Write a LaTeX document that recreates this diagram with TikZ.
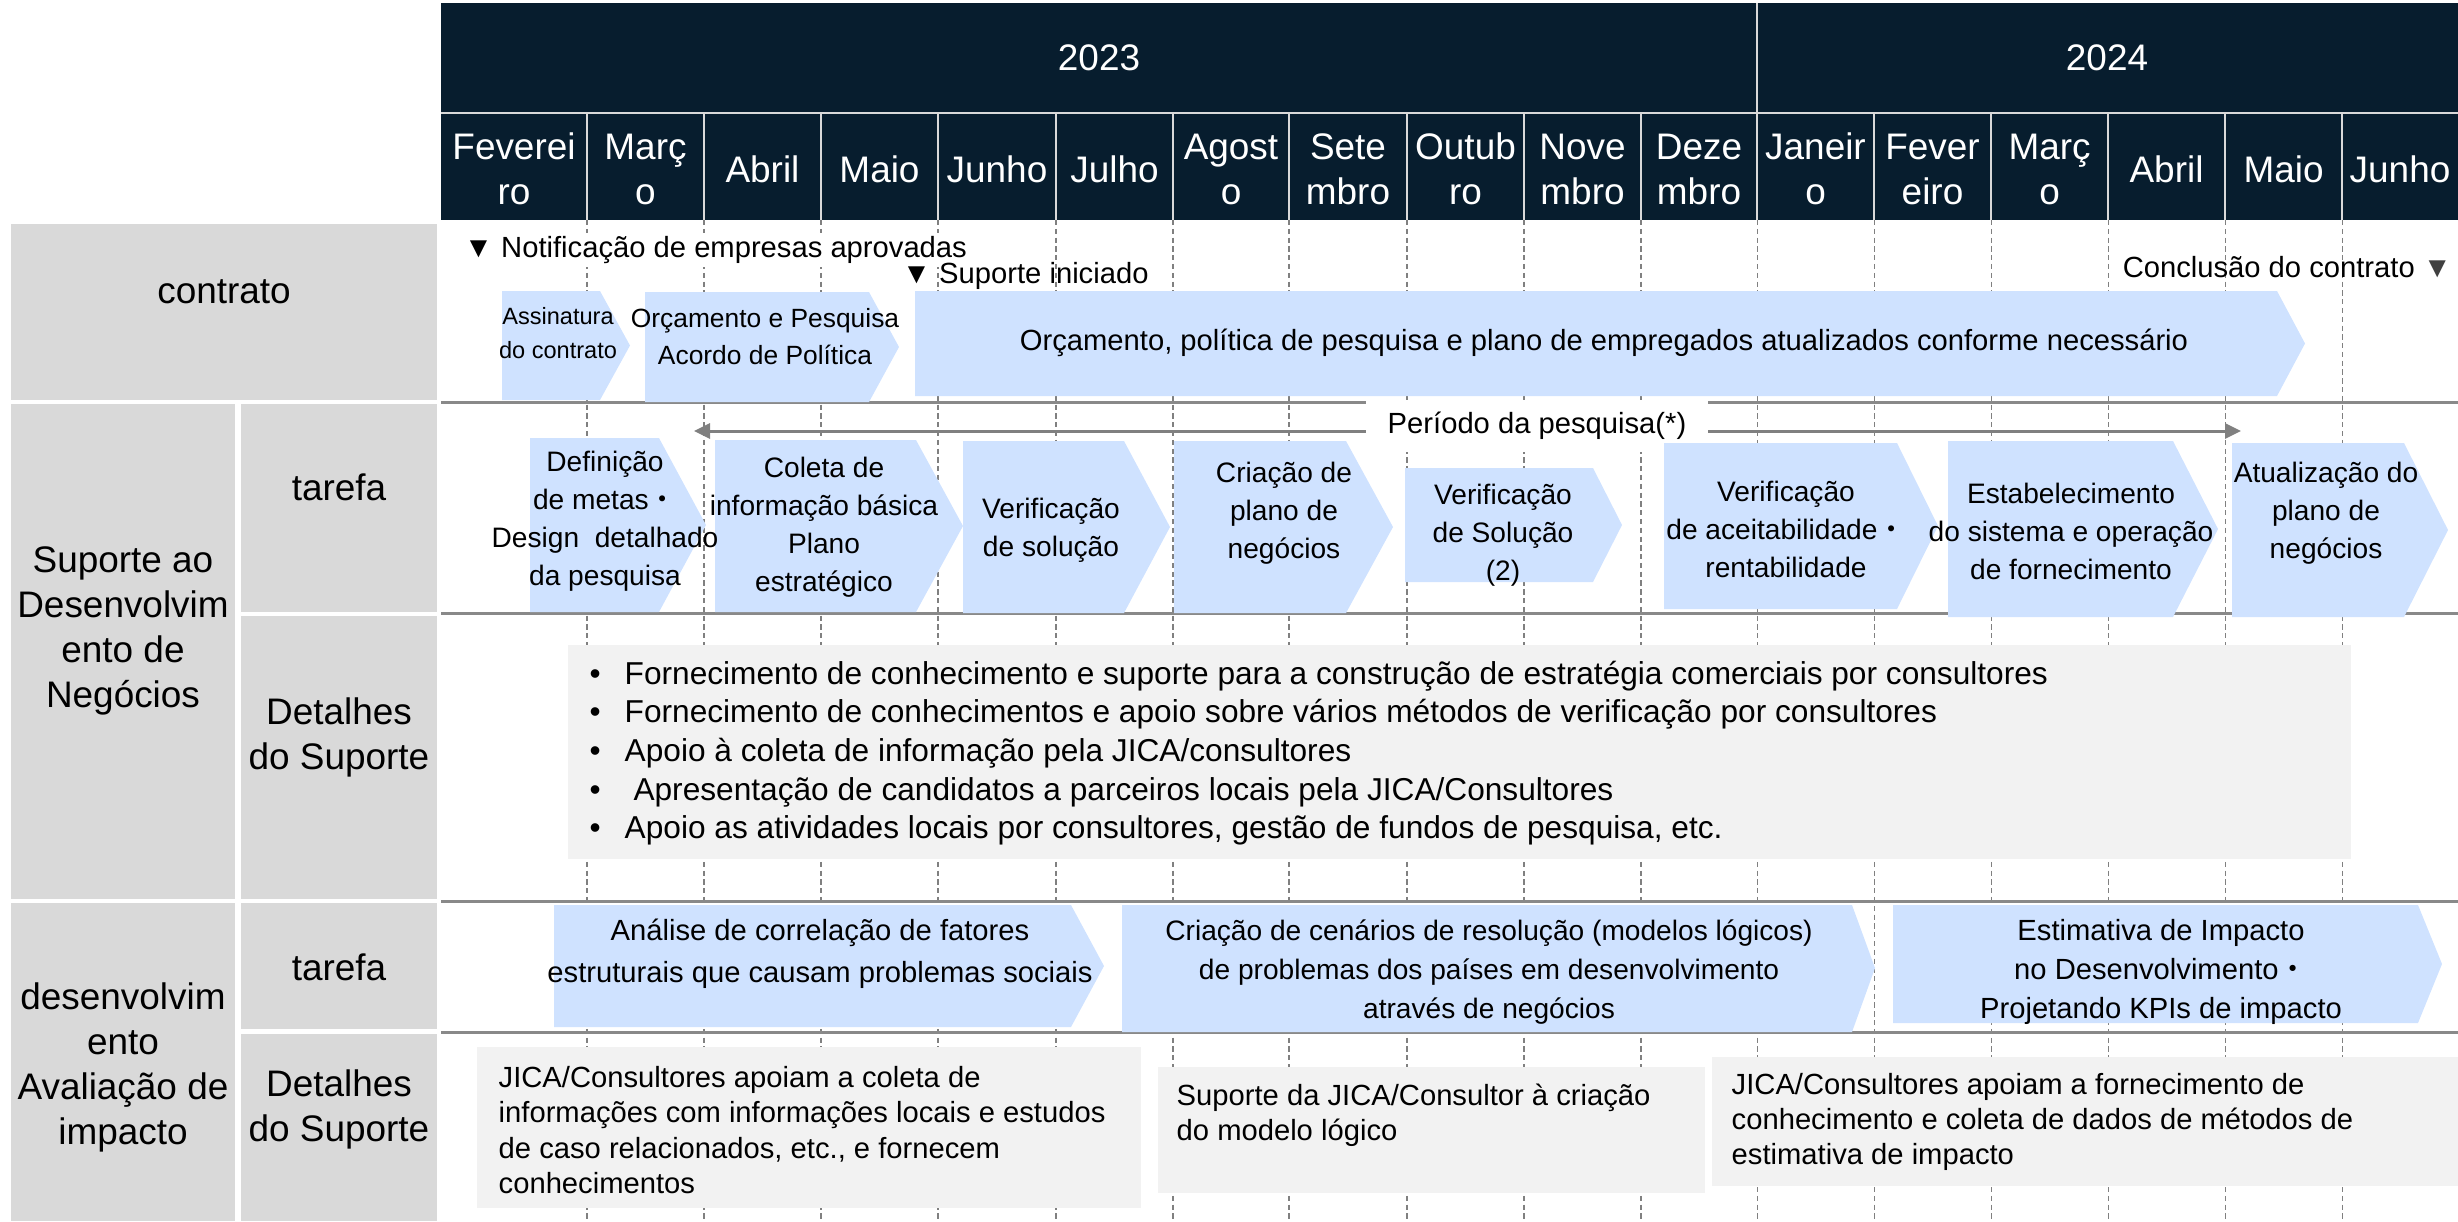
\documentclass[tikz,border=0pt]{standalone}
\usepackage{fontspec}
\setmainfont{Liberation Sans}
\newfontfamily\cjkfont{Noto Sans CJK JP}
\usetikzlibrary{arrows.meta}
\definecolor{navy}{RGB}{7,29,46}
\definecolor{chevblue}{RGB}{207,226,255}
\definecolor{lblgray}{RGB}{217,217,217}
\definecolor{boxgray}{RGB}{242,242,242}
\definecolor{sepgray}{RGB}{137,137,137}
\definecolor{dashgray}{RGB}{128,128,128}
\definecolor{markgray}{RGB}{64,64,64}
\newcommand{\jdot}{{\cjkfont ・}}
\newcommand{\blt}{\makebox[0.35cm][l]{•}}

\begin{document}
\begin{tikzpicture}[x=0.01cm,y=-0.01cm,
  hdr/.style={text=white,align=center,font=\fontsize{10.5}{12.8}\selectfont},
  lbl/.style={align=center,font=\fontsize{10.5}{12.8}\selectfont},
  chev/.style={fill=chevblue},
  chevtxt/.style={align=center,font=\fontsize{8}{10.8}\selectfont},
  note/.style={font=\fontsize{8.3}{10}\selectfont,inner sep=1pt},
  detail/.style={align=left,anchor=west,inner sep=0pt,font=\fontsize{8.3}{10}\selectfont},
  grid/.style={dashgray,line width=0.3pt,dash pattern=on 1.5pt off 1pt},
  sep/.style={sepgray,line width=0.85pt},
  cell/.style={lblgray,line width=0.6pt}]
  \useasboundingbox (0,0) rectangle (2458,1221);
  % Header: years and months
  \fill[navy] (441,3) rectangle (2458,220);
  \draw[cell] (441,113) -- (2458,113);
  \draw[cell] (1757,3) -- (1757,220);
  \foreach \x in {587,704,821,938,1056,1173,1289,1407,1524,1641,1874,1991,2108,2225,2342}
    \draw[cell] (\x,113) -- (\x,220);
  \node[hdr] (y2023) at (1099,58) {2023};
  \node[hdr] (y2024) at (2107,58) {2024};
  \foreach \cx/\mname [count=\i] in {514/Feverei\\ro,645.5/Març\\o,762.5/Abril,879.5/Maio,
      997/Junho,1114.5/Julho,1231/Agost\\o,1348/Sete\\mbro,1465.5/Outub\\ro,1582.5/Nove\\mbro,
      1699/Deze\\mbro,1815.5/Janeir\\o,1932.5/Fever\\eiro,2049.5/Març\\o,2166.5/Abril,
      2283.5/Maio,2400/Junho}
    \node[hdr] (m\i) at (\cx,169) {\mname};
  % Month grid
  \foreach \x in {587,704,821,938,1056,1173,1289,1407,1524,1641,1757,1874,1991,2108,2225,2342}
    \draw[grid] (\x,220) -- (\x,1221);
  \draw[sep] (441,402) -- (2458,402);
  \draw[sep] (441,613) -- (2458,613);
  \draw[sep] (441,901) -- (2458,901);
  \draw[sep] (441,1032) -- (2458,1032);
  % Row labels
  \fill[lblgray] (11,224) rectangle (437,400);
  \fill[lblgray] (11,404) rectangle (235,899);
  \fill[lblgray] (241,404) rectangle (437,612);
  \fill[lblgray] (241,616) rectangle (437,899);
  \fill[lblgray] (11,903) rectangle (235,1221);
  \fill[lblgray] (241,903) rectangle (437,1029);
  \fill[lblgray] (241,1034) rectangle (437,1221);
  \node[lbl] (contrato) at (224,292) {contrato};
  \node[lbl] (suporte) at (123,631) {Suporte ao\\Desenvolvim\\ento de\\Negócios};
  \node[lbl] (tarefa1) at (339,487) {tarefa};
  \node[lbl] (detalhes1) at (339,737) {Detalhes\\do Suporte};
  \node[lbl] (avaliacao) at (123,1067) {desenvolvim\\ento\\Avaliação de\\impacto};
  \node[lbl] (tarefa2) at (339,967) {tarefa};
  \node[lbl] (detalhes2) at (339,1109) {Detalhes\\do Suporte};
  % Contract row
  \node[note,fill=white,anchor=west] (notif) at (460,250) {▼ Notificação de empresas aprovadas};
  \node[note,anchor=west] (inicio) at (898,276) {▼ Suporte iniciado};
  \node[note,anchor=east] (conclusao) at (2456,267) {Conclusão do contrato {\color{markgray}▼}};
  \fill[chev] (502,291) -- (600,291) -- (630,345.5) -- (600,400) -- (502,400) -- cycle;
  \fill[chev] (645,292) -- (869,292) -- (899,347) -- (869,402) -- (645,402) -- cycle;
  \fill[chev] (915,291) -- (2277,291) -- (2305,343.5) -- (2277,396) -- (915,396) -- cycle;
  \node[align=center,font=\fontsize{6.7}{9.7}\selectfont] (assin) at (558,333) {Assinatura\\do contrato};
  \node[align=center,font=\fontsize{7.5}{10.5}\selectfont] (acordo) at (765,337) {Orçamento e Pesquisa\\Acordo de Política};
  \node[font=\fontsize{8.3}{10}\selectfont] (atualiz) at (1604,343) {Orçamento, política de pesquisa e plano de empregados atualizados conforme necessário};
  % Business support tasks
  \coordinate (pstart) at (694,431);
  \coordinate (pend) at (2241,431);
  \draw[{Triangle[length=0.16cm,width=0.15cm]}-{Triangle[length=0.16cm,width=0.15cm]},dashgray,line width=0.85pt] (pstart) -- (pend);
  \node[note,fill=white,minimum width=3.41cm,minimum height=0.52cm] (periodo) at (1537,426) {Período da pesquisa(*)};
  \fill[chev] (530,438) -- (659,438) -- (706,525) -- (659,612) -- (530,612) -- cycle;
  \fill[chev] (715,440) -- (916,440) -- (963,526) -- (916,612) -- (715,612) -- cycle;
  \fill[chev] (963,441) -- (1124,441) -- (1170,527) -- (1124,613) -- (963,613) -- cycle;
  \fill[chev] (1174,441) -- (1346,441) -- (1393,527) -- (1346,613) -- (1174,613) -- cycle;
  \fill[chev] (1405,468) -- (1593,468) -- (1622,525) -- (1593,582) -- (1405,582) -- cycle;
  \fill[chev] (1664,443) -- (1897,443) -- (1938,526) -- (1897,609) -- (1664,609) -- cycle;
  \fill[chev] (1948,441) -- (2173,441) -- (2218,529) -- (2173,617) -- (1948,617) -- cycle;
  \fill[chev] (2232,443) -- (2404,443) -- (2448,530) -- (2404,617) -- (2232,617) -- cycle;
  \node[chevtxt] (metas) at (605,521) {Definição\\de metas\jdot\\Design\ \ detalhado\\da pesquisa};
  \node[chevtxt] (coleta) at (824,527) {Coleta de\\informação básica\\Plano\\estratégico};
  \node[chevtxt] (verif1) at (1051,530) {Verificação\\de solução};
  \node[chevtxt] (plano) at (1284,513) {Criação de\\plano de\\negócios};
  \node[chevtxt] (verif2) at (1503,535) {Verificação\\de Solução\\(2)};
  \node[chevtxt] (aceit) at (1786,529) {Verificação\\de aceitabilidade\jdot\\rentabilidade};
  \node[chevtxt] (sistema) at (2071,531) {Estabelecimento\\do sistema e operação\\de fornecimento};
  \node[chevtxt] (atualplano) at (2326,513) {Atualização do\\plano de\\negócios};
  % Business support details
  \fill[boxgray] (568,645) rectangle (2351,859);
  \node[detail,font=\fontsize{9}{11}\selectfont] (apoio) at (589,753) {\blt Fornecimento de conhecimento e suporte para a construção de estratégia comerciais por consultores\\
    \blt Fornecimento de conhecimentos e apoio sobre vários métodos de verificação por consultores\\
    \blt Apoio à coleta de informação pela JICA/consultores\\
    \blt\ Apresentação de candidatos a parceiros locais pela JICA/Consultores\\
    \blt Apoio as atividades locais por consultores, gestão de fundos de pesquisa, etc.};
  % Impact evaluation tasks
  \fill[chev] (554,905) -- (1071,905) -- (1104,966) -- (1071,1027) -- (554,1027) -- cycle;
  \fill[chev] (1122,905) -- (1852,905) -- (1875,968) -- (1852,1032) -- (1122,1032) -- cycle;
  \fill[chev] (1893,905) -- (2418,905) -- (2442,964) -- (2418,1023) -- (1893,1023) -- cycle;
  \node[chevtxt,font=\fontsize{8.3}{12}\selectfont] (fatores) at (820,954) {Análise de correlação de fatores\\estruturais que causam problemas sociais};
  \node[chevtxt,font=\fontsize{8}{11}\selectfont] (cenarios) at (1489,972) {Criação de cenários de resolução (modelos lógicos)\\de problemas dos países em desenvolvimento\\através de negócios};
  \node[chevtxt,font=\fontsize{8.3}{11}\selectfont] (estimativa) at (2161,972) {Estimativa de Impacto\\no Desenvolvimento\jdot\\Projetando KPIs de impacto};
  % Impact evaluation details
  \fill[boxgray] (477,1047) rectangle (1141,1208);
  \fill[boxgray] (1158,1067) rectangle (1705,1193);
  \fill[boxgray] (1712,1057) rectangle (2458,1186);
  \node[detail] (coletaloc) at (498,1130) {JICA/Consultores apoiam a coleta de\\informações com informações locais e estudos\\de caso relacionados, etc., e fornecem\\conhecimentos};
  \node[detail] (logico) at (1176,1115) {Suporte da JICA/Consultor à criação\\do modelo lógico};
  \node[detail] (metodos) at (1731,1122) {JICA/Consultores apoiam a fornecimento de\\conhecimento e coleta de dados de métodos de\\estimativa de impacto};
\end{tikzpicture}
\end{document}
